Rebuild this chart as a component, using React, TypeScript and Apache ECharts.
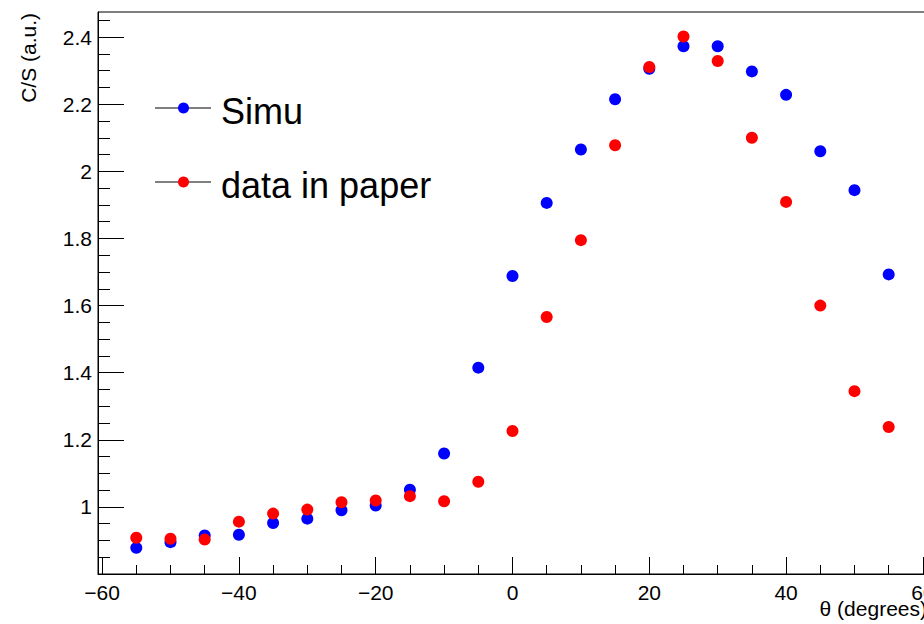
import { useEffect, useRef } from 'react';
import * as echarts from 'echarts';

const thetaDeg = [-55, -50, -45, -40, -35, -30, -25, -20, -15, -10, -5, 0, 5, 10, 15, 20, 25, 30, 35, 40, 45, 50, 55];
const simu = [0.878, 0.895, 0.915, 0.917, 0.952, 0.965, 0.990, 1.004, 1.051, 1.159, 1.415, 1.688, 1.906, 2.065, 2.215, 2.306, 2.373, 2.373, 2.298, 2.228, 2.060, 1.944, 1.693];
const dataInPaper = [0.908, 0.905, 0.903, 0.956, 0.980, 0.992, 1.014, 1.019, 1.032, 1.017, 1.075, 1.226, 1.566, 1.795, 2.078, 2.311, 2.402, 2.329, 2.100, 1.909, 1.600, 1.345, 1.238];

const xMajorTicks = [-60, -40, -20, 0, 20, 40, 60];
const xMinorTicks = [-60, -55, -50, -45, -40, -35, -30, -25, -20, -15, -10, -5, 0, 5, 10, 15, 20, 25, 30, 35, 40, 45, 50, 55, 60];
const yMajorTicks = [1, 1.2, 1.4, 1.6, 1.8, 2, 2.2, 2.4];
const yMinorTicks = [0.85, 0.9, 0.95, 1, 1.05, 1.1, 1.15, 1.2, 1.25, 1.3, 1.35, 1.4, 1.45, 1.5, 1.55, 1.6, 1.65, 1.7, 1.75, 1.8, 1.85, 1.9, 1.95, 2, 2.05, 2.1, 2.15, 2.2, 2.25, 2.3, 2.35, 2.4, 2.45];

const seriesNames = ['Simu', 'data in paper'];
const seriesColors = ['#0000ff', '#ff0000'];

const FONT = 'Liberation Sans';

export default function App() {
  const ref = useRef<HTMLDivElement>(null);
  useEffect(() => {
    if (!ref.current) return;
    const chart = echarts.init(ref.current, undefined, { renderer: 'svg' });
    const X_MIN = -60.6, X_MAX = 60.6, Y_MIN = 0.8, Y_MAX = 2.475;
    const minus = (v: number) => String(v).replace('-', '\u2212');
    const baseAxisX = {
      type: 'value' as const,
      min: X_MIN,
      max: X_MAX,
      position: 'bottom' as const,
      splitLine: { show: false },
    };
    const baseAxisY = {
      type: 'value' as const,
      min: Y_MIN,
      max: Y_MAX,
      position: 'left' as const,
      splitLine: { show: false },
    };
    chart.setOption({
      animation: false,
      backgroundColor: '#ffffff',
      grid: {
        left: 98,
        top: 12,
        right: -3,
        bottom: 50,
        show: true,
        borderColor: '#000',
        borderWidth: 1,
        backgroundColor: 'transparent',
        containLabel: false,
        outerBoundsMode: 'none',
      },
      xAxis: [
        {
          ...baseAxisX,
          name: '\u03b8 (degrees)',
          nameLocation: 'end',
          nameGap: 0,
          nameMoveOverlap: false,
          nameTextStyle: {
            fontFamily: FONT,
            fontSize: 21,
            color: '#000',
            align: 'right',
            verticalAlign: 'top',
            lineHeight: 21,
            padding: [24, 0, 0, 0],
          },
          axisLine: { show: true, onZero: false, lineStyle: { color: '#000', width: 1 } },
          axisTick: { show: true, inside: true, length: 17, customValues: xMajorTicks, lineStyle: { color: '#000', width: 1 } },
          axisLabel: {
            show: true,
            customValues: xMajorTicks,
            formatter: (v: number) => minus(v),
            fontFamily: FONT,
            fontSize: 21,
            color: '#000',
            margin: 8,
          },
        },
        {
          ...baseAxisX,
          axisLine: { show: false, onZero: false },
          axisTick: { show: true, inside: true, length: 9, customValues: xMinorTicks, lineStyle: { color: '#000', width: 1 } },
          axisLabel: { show: false },
        },
      ],
      yAxis: [
        {
          ...baseAxisY,
          name: 'C/S (a.u.)',
          nameLocation: 'end',
          nameGap: -1,
          nameRotate: 90,
          nameMoveOverlap: false,
          nameTextStyle: {
            fontFamily: FONT,
            fontSize: 21,
            color: '#000',
            align: 'right',
            verticalAlign: 'bottom',
            lineHeight: 21,
            padding: [0, 0, 59, 0],
          },
          axisLine: { show: true, onZero: false, lineStyle: { color: '#000', width: 1 } },
          axisTick: { show: true, inside: true, length: 26, customValues: yMajorTicks, lineStyle: { color: '#000', width: 1 } },
          axisLabel: {
            show: true,
            customValues: yMajorTicks,
            fontFamily: FONT,
            fontSize: 21,
            color: '#000',
            margin: 6,
          },
        },
        {
          ...baseAxisY,
          axisLine: { show: false, onZero: false },
          axisTick: { show: true, inside: true, length: 12, customValues: yMinorTicks, lineStyle: { color: '#000', width: 1 } },
          axisLabel: { show: false },
        },
      ],
      series: [simu, dataInPaper].map((vals, i) => ({
        type: 'scatter',
        name: seriesNames[i],
        xAxisIndex: 0,
        yAxisIndex: 0,
        symbol: 'circle',
        symbolSize: 12,
        itemStyle: { color: seriesColors[i], opacity: 1 },
        data: thetaDeg.map((x, k) => [x, vals[k]]),
        z: 3 + i,
      })),
      graphic: [
        { type: 'line', shape: { x1: 155, y1: 108, x2: 211, y2: 108 }, style: { stroke: '#000', lineWidth: 1 }, z: 10 },
        { type: 'circle', shape: { cx: 183.5, cy: 108, r: 5.5 }, style: { fill: seriesColors[0] }, z: 11 },
        { type: 'text', x: 221, y: 111, style: { text: seriesNames[0], fontFamily: FONT, fontSize: 36, fill: '#000', verticalAlign: 'middle', align: 'left' }, z: 11 },
        { type: 'line', shape: { x1: 155, y1: 182, x2: 211, y2: 182 }, style: { stroke: '#000', lineWidth: 1 }, z: 10 },
        { type: 'circle', shape: { cx: 183.5, cy: 182, r: 5.5 }, style: { fill: seriesColors[1] }, z: 11 },
        { type: 'text', x: 221, y: 185, style: { text: seriesNames[1], fontFamily: FONT, fontSize: 36, fill: '#000', verticalAlign: 'middle', align: 'left' }, z: 11 },
      ],
    });
    return () => chart.dispose();
  }, []);
  return (
    <div
      ref={ref}
      style={{ position: 'absolute', left: 0, top: 0, width: 924, height: 624, overflow: 'hidden', background: '#fff' }}
    />
  );
}
